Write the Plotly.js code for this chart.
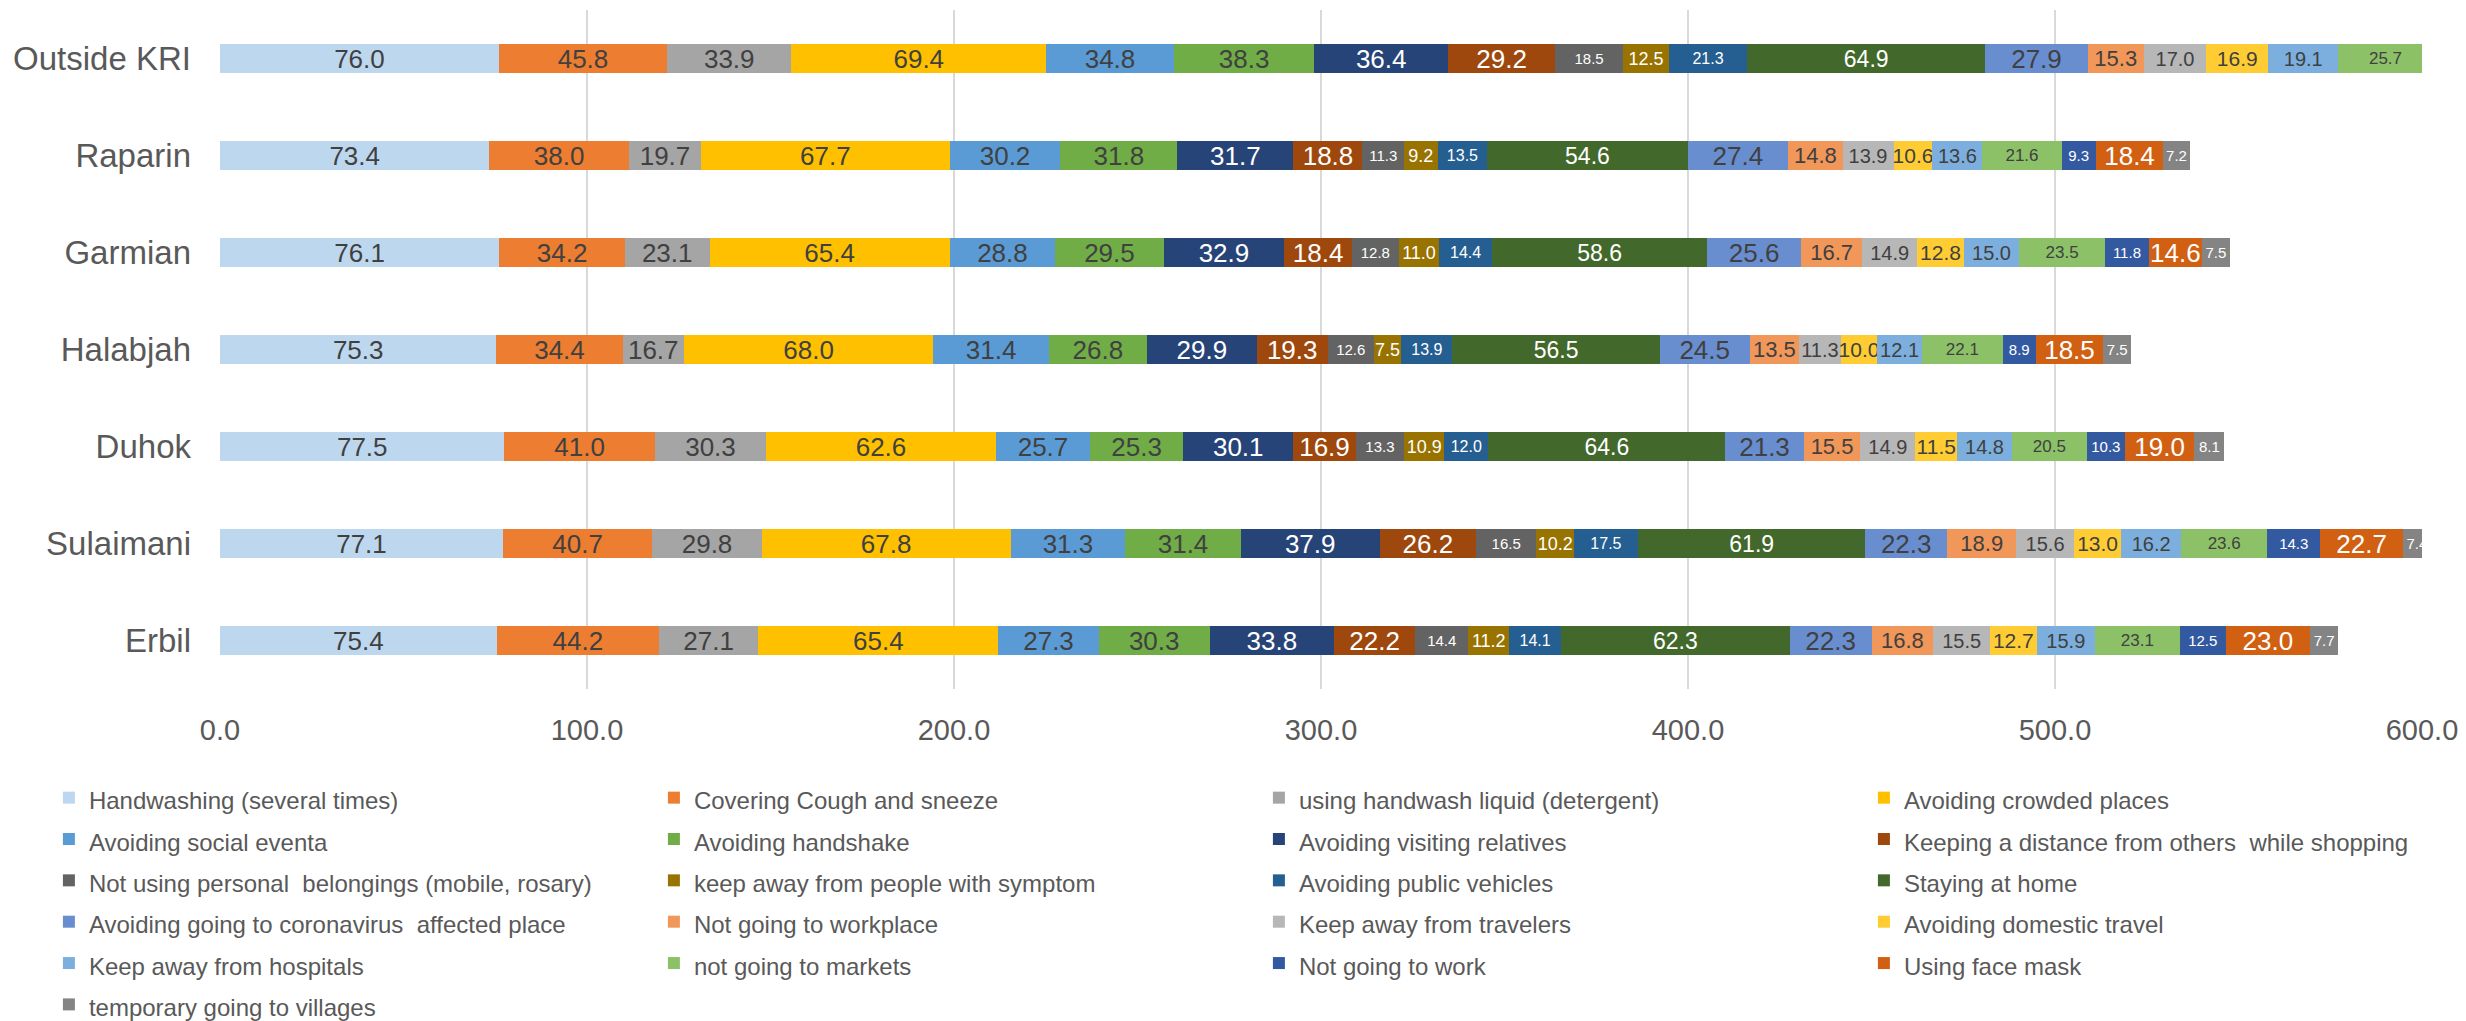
<!DOCTYPE html>
<html>
<head>
<meta charset="utf-8">
<script src="https://cdn.plot.ly/plotly-3.0.1.min.js"></script>
<style>html,body{margin:0;padding:0;background:#fff}#chart{width:2466px;height:1021px}</style>
</head>
<body>
<div id="chart"></div>
<script>
// ---- data (category order: bottom to top) ----
const categories = ['Erbil', 'Sulaimani', 'Duhok', 'Halabjah', 'Garmian', 'Raparin', 'Outside KRI'];
const handwashing        = [75.4, 77.1, 77.5, 75.3, 76.1, 73.4, 76.0];
const coveringCough      = [44.2, 40.7, 41.0, 34.4, 34.2, 38.0, 45.8];
const handwashLiquid     = [27.1, 29.8, 30.3, 16.7, 23.1, 19.7, 33.9];
const crowdedPlaces      = [65.4, 67.8, 62.6, 68.0, 65.4, 67.7, 69.4];
const socialEvents       = [27.3, 31.3, 25.7, 31.4, 28.8, 30.2, 34.8];
const handshake          = [30.3, 31.4, 25.3, 26.8, 29.5, 31.8, 38.3];
const visitingRelatives  = [33.8, 37.9, 30.1, 29.9, 32.9, 31.7, 36.4];
const distanceShopping   = [22.2, 26.2, 16.9, 19.3, 18.4, 18.8, 29.2];
const personalBelongings = [14.4, 16.5, 13.3, 12.6, 12.8, 11.3, 18.5];
const peopleWithSymptom  = [11.2, 10.2, 10.9, 7.5, 11.0, 9.2, 12.5];
const publicVehicles     = [14.1, 17.5, 12.0, 13.9, 14.4, 13.5, 21.3];
const stayingHome        = [62.3, 61.9, 64.6, 56.5, 58.6, 54.6, 64.9];
const affectedPlace      = [22.3, 22.3, 21.3, 24.5, 25.6, 27.4, 27.9];
const notWorkplace       = [16.8, 18.9, 15.5, 13.5, 16.7, 14.8, 15.3];
const travelers          = [15.5, 15.6, 14.9, 11.3, 14.9, 13.9, 17.0];
const domesticTravel     = [12.7, 13.0, 11.5, 10.0, 12.8, 10.6, 16.9];
const hospitals          = [15.9, 16.2, 14.8, 12.1, 15.0, 13.6, 19.1];
const markets            = [23.1, 23.6, 20.5, 22.1, 23.5, 21.6, 25.7];
const notWork            = [12.5, 14.3, 10.3, 8.9, 11.8, 9.3, null];
const faceMask           = [23.0, 22.7, 19.0, 18.5, 14.6, 18.4, null];
const villages           = [7.7, 7.4, 8.1, 7.5, 7.5, 7.2, null];

const seriesNames = [
  'Handwashing (several times)', 'Covering Cough and sneeze', 'using handwash liquid (detergent)', 'Avoiding crowded places',
  'Avoiding social eventa', 'Avoiding handshake', 'Avoiding visiting relatives', 'Keeping a distance from others  while shopping',
  'Not using personal  belongings (mobile, rosary)', 'keep away from people with symptom', 'Avoiding public vehicles', 'Staying at home',
  'Avoiding going to coronavirus  affected place', 'Not going to workplace', 'Keep away from travelers', 'Avoiding domestic travel',
  'Keep away from hospitals', 'not going to markets', 'Not going to work', 'Using face mask',
  'temporary going to villages'
];
const seriesValues = [
  handwashing, coveringCough, handwashLiquid, crowdedPlaces,
  socialEvents, handshake, visitingRelatives, distanceShopping,
  personalBelongings, peopleWithSymptom, publicVehicles, stayingHome,
  affectedPlace, notWorkplace, travelers, domesticTravel,
  hospitals, markets, notWork, faceMask, villages
];

// ---- styles ----
const seriesColors = [
  '#BDD7EE', '#ED7D31', '#A5A5A5', '#FFC000',
  '#5B9BD5', '#70AD47', '#264478', '#9E480E',
  '#636363', '#997300', '#255E91', '#43682B',
  '#698ED0', '#F1975A', '#B7B7B7', '#FFCD33',
  '#7CAFDD', '#8CC168', '#335AA1', '#D26012', '#848484'
];
const D = '#404040', W = '#FFFFFF';
const labelColors = [D, D, D, D, D, D, W, W, W, W, W, W, D, D, D, D, D, D, W, W, W];
const labelSizes  = [26, 26, 26, 26, 26, 26, 26, 26, 15, 18, 16, 23, 26, 22, 20, 21, 20, 17, 15, 26, 15];
const FONT = '"Liberation Sans", Arial, sans-serif';

const traces = seriesNames.map((name, i) => ({
  type: 'bar',
  orientation: 'h',
  name: '<span style="font-size:24px">' + name + '</span>',
  y: categories,
  x: seriesValues[i],
  marker: { color: seriesColors[i], line: { width: 0 } },
  texttemplate: '%{x:.1f}',
  textposition: 'inside',
  insidetextanchor: 'middle',
  textangle: 0,
  constraintext: 'none',
  textfont: { family: FONT, size: labelSizes[i], color: labelColors[i] },
  hoverinfo: 'skip'
}));

const layout = {
  width: 2466,
  height: 1021,
  barmode: 'stack',
  bargap: 0.70,
  margin: { l: 220, r: 44, t: 10, b: 332, autoexpand: false },
  paper_bgcolor: '#FFFFFF',
  plot_bgcolor: '#FFFFFF',
  font: { family: FONT, color: '#595959' },
  showlegend: true,
  xaxis: {
    range: [0, 600], tick0: 0, dtick: 100, tickformat: '.1f',
    showgrid: true, gridcolor: '#D9D9D9', gridwidth: 2,
    zeroline: false, showline: false, ticks: '',
    tickfont: { family: FONT, size: 29, color: '#595959' },
    ticklabelstandoff: 21, fixedrange: true
  },
  yaxis: {
    type: 'category', categoryorder: 'array', categoryarray: categories,
    showgrid: false, zeroline: false, showline: false, ticks: '',
    tickfont: { family: FONT, size: 33, color: '#595959' },
    ticklabelstandoff: 28, fixedrange: true
  },
  legend: {
    orientation: 'h', traceorder: 'normal',
    x: -0.0777, xanchor: 'left', y: -0.1222, yanchor: 'top',
    font: { family: FONT, size: 29.5, color: '#595959' },
    entrywidth: 560, entrywidthmode: 'pixels',
    bgcolor: 'rgba(0,0,0,0)', borderwidth: 0
  }
};

Plotly.newPlot('chart', traces, layout, { displayModeBar: false, staticPlot: true });
</script>
</body>
</html>
